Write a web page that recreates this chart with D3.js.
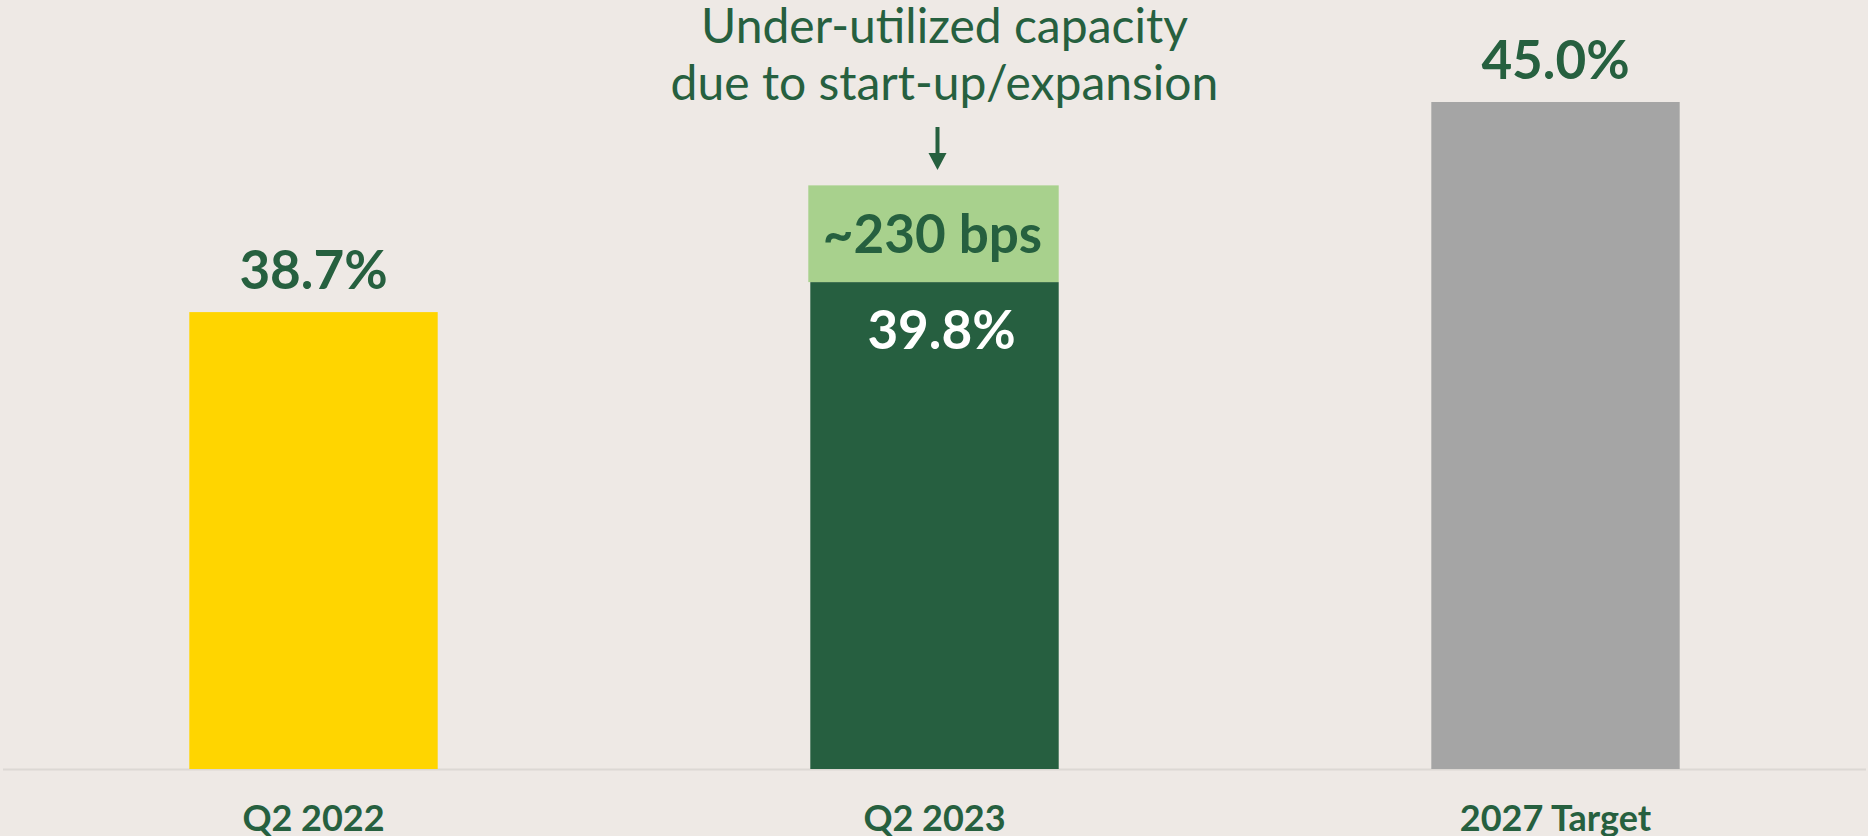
<!DOCTYPE html>
<html>
<head>
<meta charset="utf-8">
<script src="https://cdn.jsdelivr.net/npm/d3@7"></script>
<style>
  html, body { margin: 0; padding: 0; background: #eee9e5; }
  svg { display: block; font-family: Lato, "Noto Sans", sans-serif; }
</style>
</head>
<body>
<svg id="chart" width="1868" height="836"></svg>
<script>
// chart data (bar heights)
const categories = ['Q2 2022', 'Q2 2023', '2027 Target'];
const values = [38.7, 39.6, 45.0];
const valueLabels = ['38.7%', '39.8%', '45.0%'];
const uplift = [0, 2.9, 0];            // under-utilized capacity segment
const upliftLabels = ['', '~230 bps', ''];
const barColors = ['#ffd500', '#265f40', '#a5a5a5'];
const annotation = ['Under-utilized capacity', 'due to start-up/expansion'];

const green = '#26603f';
const svg = d3.select('#chart');

let xScale = d3.scaleBand()
  .domain(categories)
  .range([3, 1866])
  .paddingInner(0.6)
  .paddingOuter(0.3);

let yScale = d3.scaleLinear()
  .domain([25, 45])
  .range([769, 102]);

// baseline
svg.append('line')
  .attr('x1', 3).attr('x2', 1866)
  .attr('y1', 769.5).attr('y2', 769.5)
  .attr('stroke', '#dcd8d4')
  .attr('stroke-width', 2);

// main bars
svg.selectAll('rect.bar')
  .data(categories)
  .enter()
  .append('rect')
    .attr('class', 'bar')
    .attr('x', d => xScale(d))
    .attr('y', (d, i) => yScale(values[i]))
    .attr('width', xScale.bandwidth())
    .attr('height', (d, i) => yScale(25) - yScale(values[i]))
    .attr('fill', (d, i) => barColors[i]);

// uplift segment (stacked on top)
svg.selectAll('rect.uplift')
  .data(categories.filter((d, i) => uplift[i] > 0))
  .enter()
  .append('rect')
    .attr('class', 'uplift')
    .attr('x', d => xScale(d) - 2)
    .attr('y', d => { let i = categories.indexOf(d); return yScale(values[i] + uplift[i]); })
    .attr('width', xScale.bandwidth() + 2)
    .attr('height', d => { let i = categories.indexOf(d); return yScale(values[i]) - yScale(values[i] + uplift[i]); })
    .attr('fill', '#a8d18d');

// value labels
svg.selectAll('text.value')
  .data(categories)
  .enter()
  .append('text')
    .attr('class', 'value')
    .attr('x', (d, i) => xScale(d) + xScale.bandwidth() / 2 + (uplift[i] > 0 ? 7 : 0))
    .attr('y', (d, i) => uplift[i] > 0 ? yScale(values[i]) + 67 : yScale(values[i]) - 23)
    .attr('text-anchor', 'middle')
    .attr('font-size', 53)
    .attr('font-weight', 700)
    .attr('fill', (d, i) => uplift[i] > 0 ? '#ffffff' : green)
    .text((d, i) => valueLabels[i]);

// uplift label
svg.selectAll('text.uplift')
  .data(categories.filter((d, i) => uplift[i] > 0))
  .enter()
  .append('text')
    .attr('class', 'uplift')
    .attr('x', d => xScale(d) + xScale.bandwidth() / 2 - 2)
    .attr('y', d => { let i = categories.indexOf(d); return yScale(values[i]) - 29; })
    .attr('text-anchor', 'middle')
    .attr('font-size', 53)
    .attr('font-weight', 700)
    .attr('fill', green)
    .text(d => upliftLabels[categories.indexOf(d)]);

// category axis
let xAxis = svg.append('g')
  .attr('transform', 'translate(0, 769)')
  .call(d3.axisBottom(xScale).tickSize(0).tickPadding(0));
xAxis.select('.domain').remove();
xAxis.selectAll('text')
  .attr('y', 62)
  .attr('dy', 0)
  .attr('font-family', 'Lato, "Noto Sans", sans-serif')
  .attr('font-size', 36)
  .attr('font-weight', 700)
  .attr('fill', green);

// annotation
let cx = xScale('Q2 2023') + xScale.bandwidth() / 2;
svg.append('text')
  .attr('text-anchor', 'middle')
  .attr('font-size', 48)
  .attr('fill', green)
  .selectAll('tspan')
  .data(annotation)
  .enter()
  .append('tspan')
    .attr('x', cx + 10)
    .attr('y', (d, i) => 43 + i * 57)
    .text(d => d);

// arrow
svg.append('line')
  .attr('x1', cx + 3).attr('x2', cx + 3)
  .attr('y1', 127).attr('y2', 156)
  .attr('stroke', green)
  .attr('stroke-width', 4);
svg.append('path')
  .attr('d', `M${cx + 3 - 9},153 L${cx + 3 + 9},153 L${cx + 3},170 Z`)
  .attr('fill', green);
</script>
</body>
</html>
